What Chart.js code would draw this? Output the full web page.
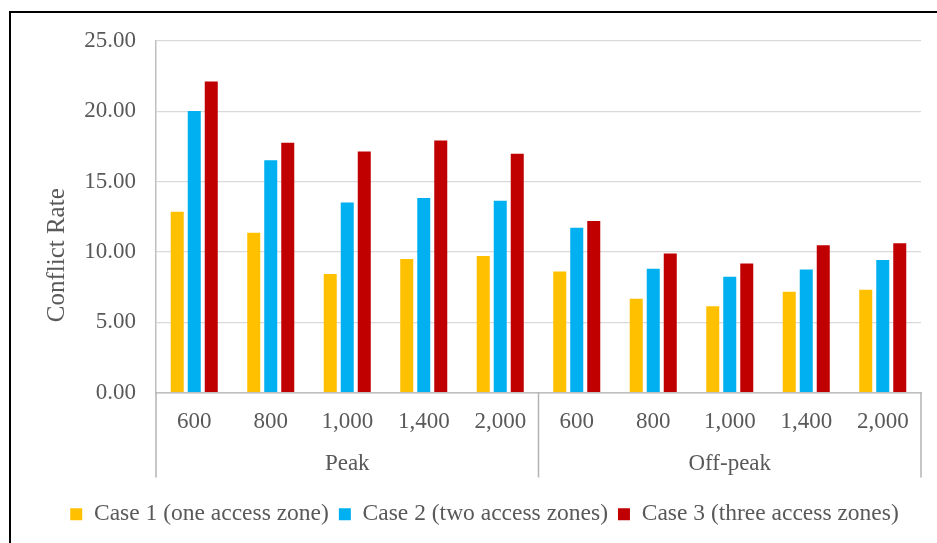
<!DOCTYPE html>
<html>
<head>
<meta charset="utf-8">
<script src="https://cdn.jsdelivr.net/npm/chart.js@4"></script>
<style>
  html, body { margin: 0; padding: 0; background: #fff; overflow: hidden; }
  #wrap { position: relative; width: 937px; height: 543px; }
  #frame {
    position: absolute; left: 9px; top: 11px; width: 1000px; height: 600px;
    border-top: 2px solid #000; border-left: 2px solid #000; box-sizing: border-box;
  }
  #chart { position: absolute; left: 0; top: 0; }
</style>
</head>
<body>
<div id="wrap">
  <div id="frame"></div>
  <canvas id="chart" width="937" height="543"></canvas>
</div>
<script>
// conflict rate per detector spacing, peak vs off-peak
const periods = ['Peak', 'Off-peak'];
const spacings = ['600', '800', '1,000', '1,400', '2,000'];
const case1 = [12.86, 11.36, 8.43, 9.50, 9.71, 8.60, 6.67, 6.14, 7.17, 7.31];
const case2 = [20.02, 16.52, 13.52, 13.83, 13.64, 11.71, 8.81, 8.24, 8.74, 9.43];
const case3 = [22.12, 17.76, 17.14, 17.93, 16.98, 12.19, 9.88, 9.17, 10.48, 10.62];
const seriesNames = ['Case 1 (one access zone)', 'Case 2 (two access zones)', 'Case 3 (three access zones)'];
const yTicks = [0, 5, 10, 15, 20, 25];

const labels = [];
periods.forEach(() => spacings.forEach(s => labels.push(s)));

const textColor = '#595959';
const fontFamily = "'Liberation Serif', 'Times New Roman', serif";
const axisLine = '#bfbfbf';

// vertical separators under the category axis + y axis title
const groupLines = {
  id: 'groupLines',
  afterDraw(chart) {
    const { ctx, chartArea, scales } = chart;
    const x = scales.x;
    const bottom = scales.group.top + 35;
    const n = spacings.length;
    const xs = [chartArea.left, chartArea.right];
    for (let g = 1; g < periods.length; g++) {
      xs.push((x.getPixelForValue(g * n - 1) + x.getPixelForValue(g * n)) / 2);
    }
    ctx.save();
    ctx.strokeStyle = '#b3b3b3';
    ctx.lineWidth = 1.5;
    xs.forEach(px => {
      ctx.beginPath();
      ctx.moveTo(px, chartArea.bottom);
      ctx.lineTo(px, bottom);
      ctx.stroke();
    });
    ctx.translate(57, (chartArea.top + bottom) / 2 - 4);
    ctx.rotate(-Math.PI / 2);
    ctx.fillStyle = textColor;
    ctx.font = '25px ' + fontFamily;
    ctx.textAlign = 'center';
    ctx.textBaseline = 'middle';
    ctx.fillText('Conflict Rate', 0, 0);
    ctx.restore();
  }
};

new Chart(document.getElementById('chart').getContext('2d'), {
  type: 'bar',
  data: {
    labels,
    datasets: [
      { label: seriesNames[0], data: case1, backgroundColor: '#FFC000' },
      { label: seriesNames[1], data: case2, backgroundColor: '#00B0F0' },
      { label: seriesNames[2], data: case3, backgroundColor: '#C00000' }
    ]
  },
  options: {
    responsive: false,
    animation: false,
    categoryPercentage: 0.667,
    barPercentage: 0.765,
    layout: { padding: { left: 48, right: 16, top: 41, bottom: 7 } },
    plugins: {
      tooltip: { enabled: false },
      legend: {
        position: 'bottom',
        labels: {
          boxWidth: 12,
          boxHeight: 12,
          padding: 10,
          color: textColor,
          font: { family: fontFamily, size: 23.5 }
        }
      }
    },
    scales: {
      x: {
        grid: { display: false, drawTicks: false },
        border: { display: true, color: axisLine, width: 1.5 },
        ticks: { color: textColor, font: { family: fontFamily, size: 23 }, padding: 16, maxRotation: 0, autoSkip: false },
        afterFit: s => { s.height = 50; }
      },
      group: {
        type: 'category',
        position: 'bottom',
        weight: 1,
        labels: periods,
        offset: true,
        grid: { display: false, drawTicks: false },
        border: { display: false },
        ticks: { color: textColor, font: { family: fontFamily, size: 23 }, padding: 8, maxRotation: 0 },
        afterFit: s => { s.height = 50; }
      },
      y: {
        min: 0,
        max: 25,
        afterBuildTicks: s => { s.ticks = yTicks.map(v => ({ value: v })); },
        grid: {
          drawTicks: false,
          lineWidth: 1.2,
          color: ctx => (ctx.tick && ctx.tick.value === 0 ? axisLine : '#d9d9d9')
        },
        border: { display: true, color: axisLine, width: 1.5 },
        ticks: {
          color: textColor,
          font: { family: fontFamily, size: 23 },
          padding: 20,
          callback: v => Number(v).toFixed(2)
        },
        afterFit: s => { s.width = 108; }
      }
    }
  },
  plugins: [groupLines]
});
</script>
</body>
</html>
